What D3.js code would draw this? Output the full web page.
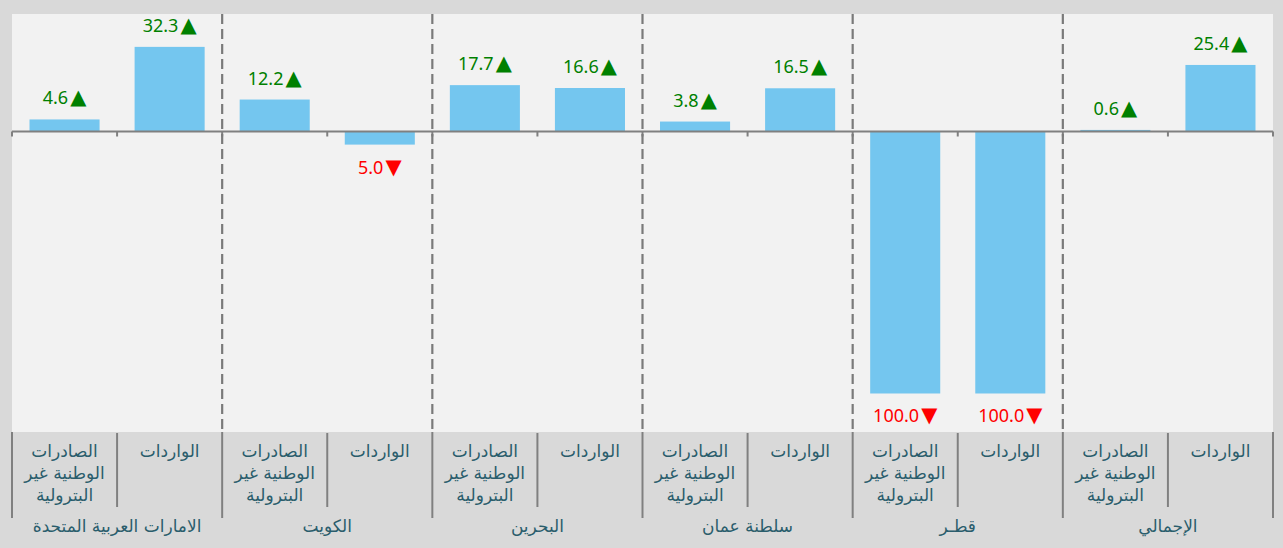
<!DOCTYPE html>
<html>
<head>
<meta charset="utf-8">
<script src="https://cdn.jsdelivr.net/npm/d3@7"></script>
<style>
  html, body { margin: 0; padding: 0; background: #d9d9d9; }
  svg { display: block; }
</style>
</head>
<body>
<script>
// Country groups, left to right
const groups = ["الامارات العربية المتحدة", "الكويت", "البحرين", "سلطنة عمان", "قطـر", "الإجمالي"];
// Sub-categories inside each group
const subs = ["الصادرات الوطنية غير البترولية", "الواردات"];
const subLines = [["الصادرات", "الوطنية غير", "البترولية"], ["الواردات"]];
// Percentage change values (exports, imports) per group
const exportsChange = [4.6, 12.2, 17.7, 3.8, -100.0, 0.6];
const importsChange = [32.3, -5.0, 16.6, 16.5, -100.0, 25.4];

const W = 1283, H = 548;
const plot = { left: 12, right: 1273, top: 14, bottom: 432 };
const labelBottom = 518;

const data = [];
groups.forEach((g, i) => {
  data.push({ group: g, sub: subs[0], value: exportsChange[i] });
  data.push({ group: g, sub: subs[1], value: importsChange[i] });
});

const svg = d3.select("body").append("svg").attr("width", W).attr("height", H);

// plot background
svg.append("rect")
  .attr("x", plot.left).attr("y", plot.top)
  .attr("width", plot.right - plot.left).attr("height", plot.bottom - plot.top)
  .attr("fill", "#f2f2f2");

const x0 = d3.scaleBand().domain(groups).range([plot.left, plot.right]).padding(0);
const x1 = d3.scaleBand().domain(subs).range([0, x0.bandwidth()])
  .paddingInner(1 / 3).paddingOuter(1 / 6);
const xs = d3.scaleBand().domain(subs).range([0, x0.bandwidth()]).padding(0);
const y = d3.scaleLinear().domain([-114.7, 44.85]).range([plot.bottom, plot.top]);

// bars
svg.append("g").selectAll("rect").data(data).join("rect")
  .attr("x", d => x0(d.group) + x1(d.sub))
  .attr("width", x1.bandwidth())
  .attr("y", d => y(Math.max(0, d.value)))
  .attr("height", d => Math.abs(y(d.value) - y(0)))
  .attr("fill", "#74c6ef");

// zero axis line with ticks at every slot boundary
const y0 = y(0);
svg.append("line")
  .attr("x1", plot.left).attr("x2", plot.right)
  .attr("y1", y0).attr("y2", y0)
  .attr("stroke", "#808080").attr("stroke-width", 2);
const tickXs = [];
groups.forEach(g => subs.forEach(s => tickXs.push(x0(g) + xs(s))));
tickXs.push(plot.right);
svg.append("g").selectAll("line").data(tickXs).join("line")
  .attr("x1", d => d).attr("x2", d => d)
  .attr("y1", y0).attr("y2", y0 + 5)
  .attr("stroke", "#808080").attr("stroke-width", 2);

// dashed group separators
svg.append("g").selectAll("line").data(groups.slice(1)).join("line")
  .attr("x1", d => x0(d)).attr("x2", d => x0(d))
  .attr("y1", plot.top).attr("y2", plot.bottom)
  .attr("stroke", "#7a7a7a").attr("stroke-width", 2.2)
  .attr("stroke-dasharray", "10,5");

// value labels
const vl = svg.append("g").selectAll("text").data(data).join("text")
  .attr("x", d => x0(d.group) + x1(d.sub) + x1.bandwidth() / 2)
  .attr("y", d => d.value >= 0 ? y(d.value) - 15 : y(d.value) + 29)
  .attr("text-anchor", "middle")
  .attr("direction", "ltr")
  .attr("font-family", "'Noto Sans', 'DejaVu Sans', sans-serif")
  .attr("font-size", 18)
  .attr("fill", d => d.value >= 0 ? "#008000" : "#ff0000");
vl.append("tspan").text(d => d3.format(".1f")(Math.abs(d.value)));
vl.append("tspan")
  .attr("dx", 2)
  .attr("font-family", "'DejaVu Sans', sans-serif")
  .attr("font-size", 21)
  .text(d => d.value >= 0 ? "▲" : "▼");

// category axis: slot separators
const sepG = svg.append("g");
groups.forEach(g => {
  const midX = x0(g) + xs(subs[1]);
  sepG.append("line")
    .attr("x1", midX).attr("x2", midX).attr("y1", plot.bottom + 1).attr("y2", 507)
    .attr("stroke", "#808080").attr("stroke-width", 2);
});
const groupEdges = groups.map(g => x0(g)).concat([plot.right]);
sepG.selectAll("line.edge").data(groupEdges).join("line")
  .attr("class", "edge")
  .attr("x1", d => d).attr("x2", d => d).attr("y1", plot.bottom).attr("y2", labelBottom)
  .attr("stroke", "#808080").attr("stroke-width", 2);

const labelColor = "#2a5d6c";
const fontFam = "'DejaVu Sans', sans-serif";

// sub-category labels
groups.forEach(g => {
  subs.forEach((s, si) => {
    const cx = x0(g) + xs(s) + xs.bandwidth() / 2;
    const t = svg.append("text")
      .attr("x", cx).attr("y", 457)
      .attr("text-anchor", "middle")
      .attr("font-family", fontFam)
      .attr("font-size", 17)
      .attr("fill", labelColor);
    subLines[si].forEach((line, li) => {
      t.append("tspan").attr("x", cx).attr("y", 457 + li * 22).text(line);
    });
  });
});

// group labels
svg.append("g").selectAll("text").data(groups).join("text")
  .attr("x", d => x0(d) + x0.bandwidth() / 2)
  .attr("y", 532)
  .attr("text-anchor", "middle")
  .attr("font-family", fontFam)
  .attr("font-size", 17)
  .attr("fill", labelColor)
  .text(d => d);
</script>
</body>
</html>
